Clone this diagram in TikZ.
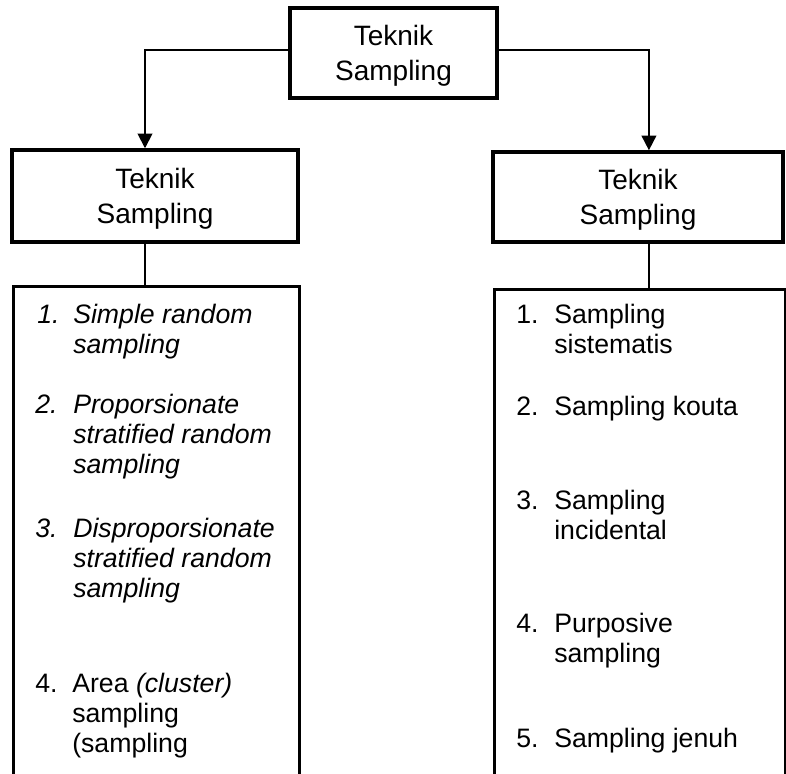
\documentclass[tikz,border=0pt]{standalone}
\usepackage{fontspec}
\setmainfont{Liberation Sans}
\usetikzlibrary{arrows.meta}

\begin{document}
\begin{tikzpicture}[x=0.75pt,y=-0.75pt,
  headbox/.style={rectangle,draw,line width=2.6pt,align=center,text depth=0pt,
    font=\fontsize{21}{26}\selectfont},
  listbox/.style={rectangle,draw,line width=2.6pt,anchor=north west},
  num/.style={anchor=base west,inner sep=0pt,font=\fontsize{20}{22.5}\selectfont},
  entry/.style={anchor=base west,inner sep=0pt,align=left,font=\fontsize{20}{22.5}\selectfont},
  conn/.style={line width=1.4pt}]
\useasboundingbox (0,0) rectangle (786,774);
\clip (0,0) rectangle (786,774);

\node[headbox, minimum width = 155pt, minimum height = 67.5pt] (top) at (393.5,53) {Teknik\\Sampling};
\node[headbox, minimum width = 214.5pt, minimum height = 69pt] (hl) at (155,196) {Teknik\\Sampling};
\node[headbox, minimum width = 217.5pt, minimum height = 67.5pt] (hr) at (638,197) {Teknik\\Sampling};

\node[listbox, minimum width = 214.5pt, minimum height = 380pt] (ll) at (12,285) {};
\node[listbox, minimum width = 218pt, minimum height = 380pt] (lr) at (493,288) {};

\coordinate (al) at ([xshift=-7.5pt]hl.north);
\coordinate (ar) at ([xshift=8.2pt]hr.north);
\coordinate (bl) at ([xshift=-7.5pt]hl.south);
\coordinate (br) at ([xshift=8.2pt]hr.south);

\draw[conn,-{Triangle[width=11pt,length=11pt]}] ([yshift=2.2pt]top.west) -| (al);
\draw[conn,-{Triangle[width=11pt,length=11pt]}] ([yshift=2.2pt]top.east) -| (ar);
\draw[conn] (bl) -- (bl |- ll.north);
\draw[conn] (br) -- (br |- lr.north);

% left list (entries sit on the baseline of their last line)
\node[num] (nl1) at (37,323) {\itshape 1.};
\node[entry] (tl1) at (73,353) {\itshape Simple random\\\itshape sampling};
\node[num] (nl2) at (35,413) {\itshape 2.};
\node[entry] (tl2) at (73,473) {\itshape Proporsionate\\\itshape stratified random\\\itshape sampling};
\node[num] (nl3) at (35,537) {\itshape 3.};
\node[entry] (tl3) at (73,597) {\itshape Disproporsionate\\\itshape stratified random\\\itshape sampling};
\node[num] (nl4) at (35,692) {4.};
\node[entry] (tl4) at (72,752) {Area \textit{(cluster)}\\sampling\\(sampling};

% right list
\node[num] (nr1) at (516,323) {1.};
\node[entry] (tr1) at (554,353) {Sampling\\sistematis};
\node[num] (nr2) at (516,415) {2.};
\node[entry] (tr2) at (554,415) {Sampling kouta};
\node[num] (nr3) at (516,509) {3.};
\node[entry] (tr3) at (554,539) {Sampling\\incidental};
\node[num] (nr4) at (516,632) {4.};
\node[entry] (tr4) at (554,662) {Purposive\\sampling};
\node[num] (nr5) at (516,747) {5.};
\node[entry] (tr5) at (554,747) {Sampling jenuh};
\end{tikzpicture}
\end{document}
